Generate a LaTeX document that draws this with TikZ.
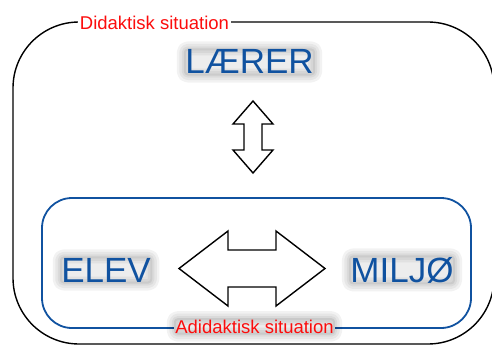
\documentclass[tikz,border=0pt]{standalone}
\usepackage{fontspec}
\setmainfont{Liberation Sans}
\definecolor{titleblue}{RGB}{16,82,160}
\definecolor{labelred}{RGB}{252,12,12}
\tikzset{
  bigword/.style={font=\fontsize{35}{35}\selectfont, text=titleblue, inner sep=1.5pt, anchor=base},
  tag/.style={font=\fontsize{18.5}{18.5}\selectfont, text=labelred, inner sep=1.5pt, anchor=base},
  % soft grey halo drawn under a node's text
  glow/.style={rounded corners=4pt, line join=round,
    preaction={draw=black, draw opacity=0.05, line width=14pt},
    preaction={draw=black, draw opacity=0.05, line width=9pt},
    preaction={draw=black, draw opacity=0.05, line width=4pt},
    preaction={fill=black, fill opacity=0.07}},
  outerframe/.style={draw=black, line width=1.4pt, rounded corners=66pt},
  innerframe/.style={draw=titleblue, line width=1.8pt, rounded corners=30pt},
  dblarrow/.style={draw=black, fill=white, line width=1.4pt, line join=miter}
}
\begin{document}
\begin{tikzpicture}[x=1pt,y=-1pt]
  \useasboundingbox (0,0) rectangle (492,345);

  % frames
  \draw[outerframe] (13,22) rectangle (494,344);
  \draw[innerframe] (42,198) rectangle (471,328);

  % frame labels
  \node[tag, fill=white] (didaktisk) at (154.5,30) {Didaktisk situation};
  \node[tag, fill=white, text opacity=0] (adidaktiskbg) at (254.5,333) {Adidaktisk situation};
  \node[tag, glow] (adidaktisk) at (adidaktiskbg.base) {Adidaktisk situation};

  % actors
  \node[bigword, glow] (laerer) at (249.5,74) {LÆRER};
  \node[bigword, glow] (elev) at (106,282) {ELEV};
  \node[bigword, glow] (miljo) at (402,282) {MILJØ};

  % vertical double arrow
  \draw[dblarrow] (253,101) -- (273,124) -- (262,124) -- (262,150) -- (273,150)
    -- (253,173) -- (233,150) -- (244,150) -- (244,124) -- (233,124) -- cycle;

  % horizontal double arrow
  \draw[dblarrow] (179,268.5) -- (228,231) -- (228,250) -- (276,250) -- (276,231)
    -- (325,268.5) -- (276,306) -- (276,287) -- (228,287) -- (228,306) -- cycle;
\end{tikzpicture}
\end{document}
